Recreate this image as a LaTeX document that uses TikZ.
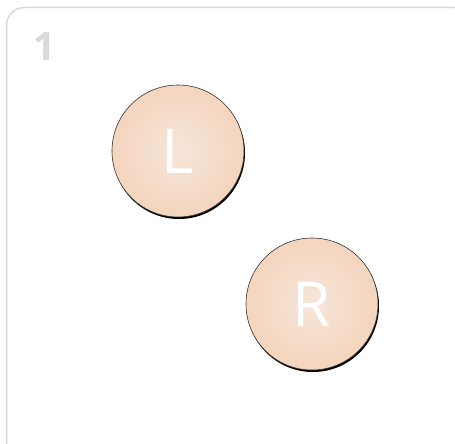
\documentclass[tikz,border=0pt]{standalone}
\usepackage{fontspec}
\setsansfont{Open Sans}
\usetikzlibrary{shadows}

\definecolor{peachin}{HTML}{F6E6DA}
\definecolor{peachout}{HTML}{F3CCAF}
\definecolor{framegray}{HTML}{D9D9D9}
\pgfdeclareradialshading{peach}{\pgfpoint{0bp}{0bp}}{%
  color(0bp)=(peachin); color(30bp)=(peachout!80!peachin); color(50bp)=(peachout); color(60bp)=(peachout)}

\tikzset{
  ball/.style={circle, minimum size=132pt, inner sep=0pt, shading=peach, draw=black!80, line width=0.6pt,
    text=white, font=\sffamily\fontsize{62}{62}\selectfont},
  ballshadow/.style={circle, minimum size=132pt, inner sep=0pt, fill=black}
}

\begin{document}
\begin{tikzpicture}[x=1pt, y=1pt]
    \useasboundingbox (0,0) rectangle (455,-444);
    \clip (0,0) rectangle (455,-444);
    \draw[framegray, line width=1.5pt, rounded corners=18pt] (6.5,-7.5) rectangle (472,-462);
    \node[text=framegray, font=\sffamily\bfseries\fontsize{39}{39}\selectfont] (num) at (45,-47) {1};
    % balls
    \node[ballshadow] at (179,-153) {};
    \node[ball] (L) at (178,-151) {L};
    \node[ballshadow] at (313,-306) {};
    \node[ball] (R) at (312,-304) {R};
\end{tikzpicture}
\end{document}
